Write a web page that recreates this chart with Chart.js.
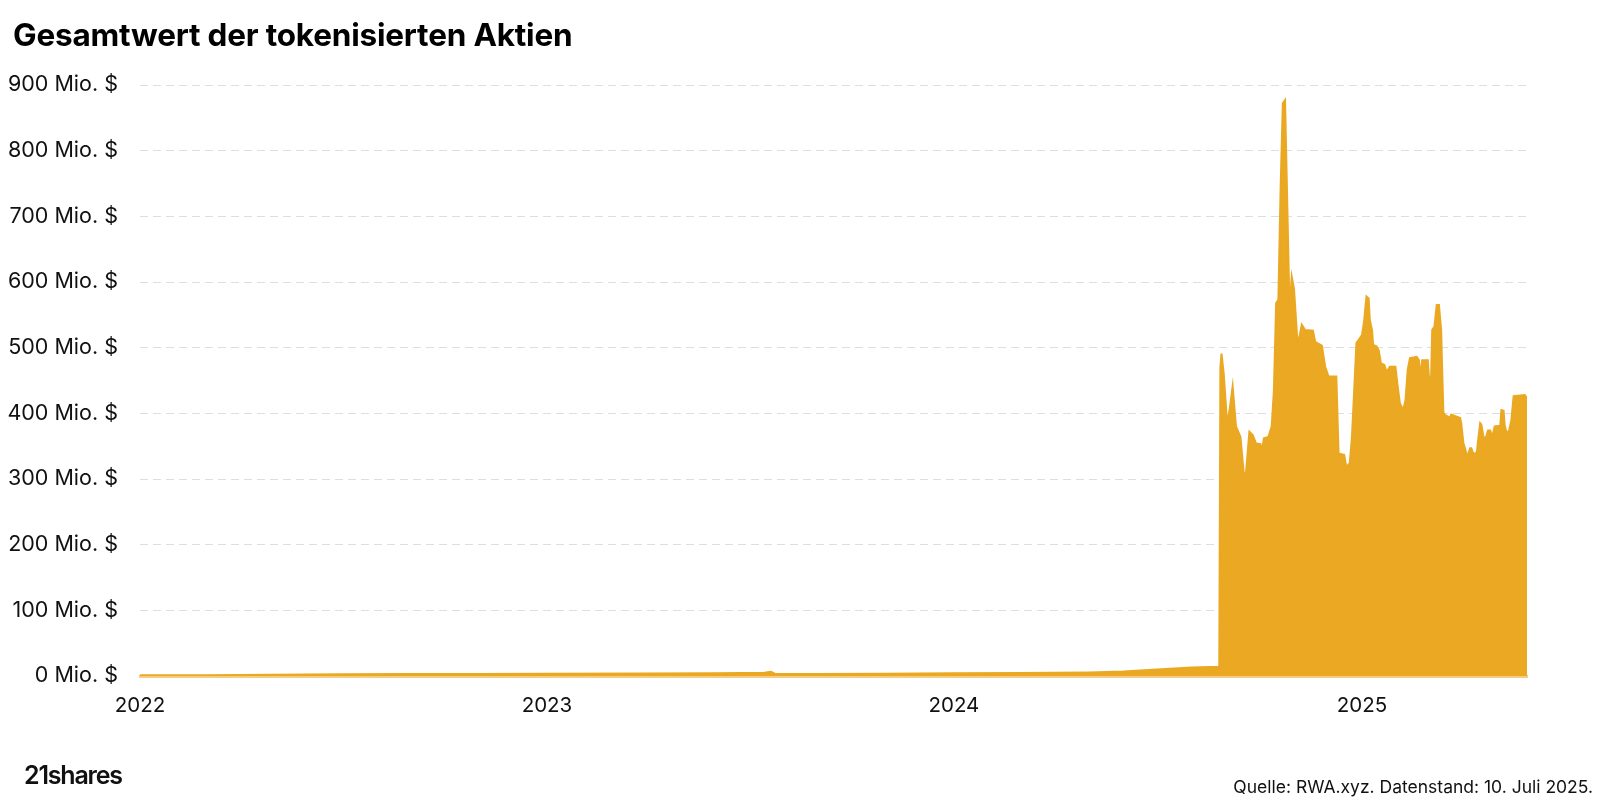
<!DOCTYPE html>
<html>
<head>
<meta charset="utf-8">
<script src="https://cdn.jsdelivr.net/npm/chart.js@4.4.0/dist/chart.umd.min.js"></script>
<style>
  body { margin: 0; background: #fff; font-family: Inter, "Noto Sans", sans-serif; }
  #wrap { position: relative; width: 1600px; height: 797px; overflow: hidden; }
  #chart { position: absolute; left: 0; top: 0; }
  .title { position: absolute; left: 13px; top: 15px; font-size: 31.5px; font-weight: 700; color: #000; letter-spacing: -0.2px; }
  .logo { position: absolute; left: 24px; top: 760px; font-size: 25px; font-weight: 600; color: #111; letter-spacing: -1.2px; }
  .source { position: absolute; right: 7px; top: 776px; font-size: 17.5px; color: #111; }
</style>
</head>
<body>
<div id="wrap">
  <canvas id="chart" width="1600" height="797"></canvas>
  <div class="title">Gesamtwert der tokenisierten Aktien</div>
  <div class="logo">21shares</div>
  <div class="source">Quelle: RWA.xyz. Datenstand: 10. Juli 2025.</div>
</div>
<script>
// Gesamtwert in Mio. $
const dates = [
  '2022-01-01', '2022-03-01', '2022-05-01', '2022-07-01', '2022-09-01', '2022-11-01',
  '2023-01-01', '2023-04-01', '2023-06-01', '2023-07-15', '2023-07-21', '2023-07-25',
  '2023-09-01', '2023-11-01', '2024-01-01', '2024-03-01', '2024-05-01', '2024-06-01',
  '2024-07-01', '2024-08-01', '2024-08-25', '2024-08-26',
  '2024-08-27', '2024-08-28', '2024-08-30', '2024-09-02', '2024-09-04', '2024-09-07',
  '2024-09-10', '2024-09-14', '2024-09-17', '2024-09-19', '2024-09-22', '2024-09-25',
  '2024-09-28', '2024-10-02', '2024-10-03', '2024-10-05', '2024-10-09', '2024-10-12',
  '2024-10-14', '2024-10-16', '2024-10-18', '2024-10-20', '2024-10-22', '2024-10-24',
  '2024-10-27', '2024-10-28', '2024-10-30', '2024-11-01', '2024-11-04', '2024-11-06',
  '2024-11-08', '2024-11-11', '2024-11-18', '2024-11-20', '2024-11-26', '2024-11-29',
  '2024-12-02', '2024-12-09', '2024-12-11', '2024-12-16', '2024-12-18', '2024-12-21',
  '2024-12-23', '2024-12-25', '2024-12-27', '2025-01-01', '2025-01-03', '2025-01-05',
  '2025-01-07', '2025-01-08', '2025-01-10', '2025-01-11', '2025-01-14', '2025-01-16',
  '2025-01-18', '2025-01-21', '2025-01-23', '2025-01-26', '2025-01-31', '2025-02-02',
  '2025-02-04', '2025-02-07', '2025-02-09', '2025-02-11', '2025-02-13', '2025-02-19',
  '2025-02-21', '2025-02-22', '2025-02-24', '2025-03-01', '2025-03-02', '2025-03-04',
  '2025-03-05', '2025-03-07', '2025-03-09', '2025-03-11', '2025-03-13', '2025-03-14',
  '2025-03-15', '2025-03-16', '2025-03-21', '2025-03-22', '2025-03-30', '2025-03-31',
  '2025-04-02', '2025-04-03', '2025-04-05', '2025-04-06', '2025-04-08', '2025-04-09',
  '2025-04-11', '2025-04-14', '2025-04-15', '2025-04-17', '2025-04-18', '2025-04-20',
  '2025-04-22', '2025-04-24', '2025-04-26', '2025-04-28', '2025-04-30', '2025-05-05',
  '2025-05-06', '2025-05-08', '2025-05-09', '2025-05-11', '2025-05-13', '2025-05-15',
  '2025-05-17', '2025-05-27', '2025-05-29'
];
const values = [
  1, 1, 1.8, 2.5, 3, 3.2,
  3.5, 3.8, 4.2, 4.8, 6.5, 3,
  3, 3.3, 4, 4.5, 5.5, 7,
  10, 13, 14, 15,
  470, 491, 460, 385, 402, 441,
  380, 364, 308, 310, 372, 367,
  354, 353, 339, 362, 364, 380,
  435, 568, 573, 741, 872, 877,
  639, 557, 608, 590, 512, 517,
  535, 527, 526, 509, 503, 471,
  456, 456, 339, 337, 318, 324,
  364, 435, 507, 519, 542, 578,
  575, 542, 527, 504, 502, 496,
  476, 474, 463, 471, 471, 441,
  415, 405, 420, 466, 484, 486,
  481, 456, 481, 481, 456, 455,
  527, 532, 565, 565, 527, 461,
  402, 398, 393, 398, 393, 385,
  354, 349, 336, 337, 347, 347,
  338, 340, 357, 385, 383, 364,
  362, 374, 374, 364, 380, 381,
  405, 404, 381, 369, 374, 390,
  426, 428, 423
];
const yearLabels = ['2022', '2023', '2024', '2025'];
const yTicks = [0, 100, 200, 300, 400, 500, 600, 700, 800, 900];

const start = Date.UTC(2022, 0, 1);
const dayOf = s => {
  const p = s.split('-').map(Number);
  return (Date.UTC(p[0], p[1] - 1, p[2]) - start) / 86400000;
};
const yearDays = yearLabels.map(y => dayOf(y + '-01-01'));
const points = dates.map((d, i) => ({ x: dayOf(d), y: values[i] }));

new Chart(document.getElementById('chart'), {
  type: 'line',
  data: {
    datasets: [{
      data: points,
      fill: 'origin',
      backgroundColor: '#eaa823',
      borderColor: '#eaa823',
      borderWidth: 2,
      pointRadius: 0,
      tension: 0
    }]
  },
  options: {
    responsive: false,
    animation: false,
    layout: { padding: { top: 85, right: 73, bottom: 81, left: 0 } },
    plugins: { legend: { display: false }, tooltip: { enabled: false } },
    scales: {
      x: {
        type: 'linear',
        min: 0,
        max: points[points.length - 1].x,
        afterBuildTicks: s => { s.ticks = yearDays.map(v => ({ value: v })); },
        afterFit: s => { s.height = 40; },
        ticks: {
          font: { family: 'Inter', size: 20.5 },
          color: '#111',
          padding: 10,
          maxRotation: 0,
          autoSkip: false,
          callback: v => yearLabels[yearDays.indexOf(v)]
        },
        grid: { display: false },
        border: { display: true, color: '#f2cd82', width: 3 }
      },
      y: {
        min: 0,
        max: 900,
        afterBuildTicks: s => { s.ticks = yTicks.map(v => ({ value: v })); },
        afterFit: s => { s.width = 140; },
        ticks: {
          font: { family: 'Inter', size: 21.5 },
          color: '#111',
          padding: 22,
          callback: v => v + ' Mio. $'
        },
        grid: { color: '#dedede', lineWidth: 1, drawTicks: false },
        border: { display: false, dash: [8, 5] }
      }
    }
  }
});
</script>
</body>
</html>
